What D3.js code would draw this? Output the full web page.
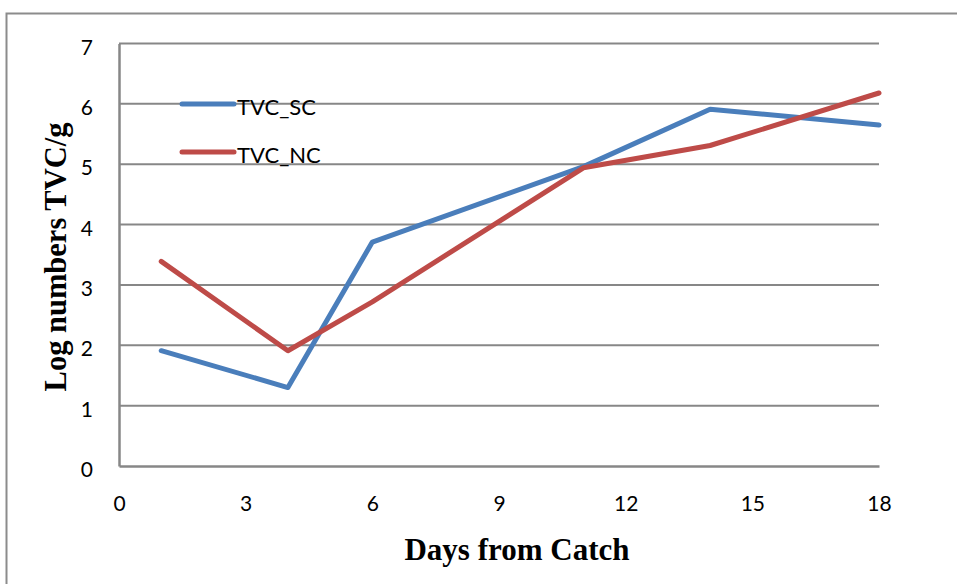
<!DOCTYPE html>
<html><head><meta charset="utf-8">
<script src="https://cdn.jsdelivr.net/npm/d3@7"></script>
<style>body{margin:0;background:#fff}</style>
</head><body>
<svg id="c" width="957" height="584"></svg>
<script>
const days = [1, 4, 6, 11, 14, 18];
const tvcSC = [1.91, 1.30, 3.71, 4.96, 5.91, 5.65];
const tvcNC = [3.39, 1.91, 2.72, 4.94, 5.31, 6.18];
const seriesNames = ["TVC_SC", "TVC_NC"];
const seriesColors = ["#4a7ebb", "#be4b48"];
const xTicks = [0, 3, 6, 9, 12, 15, 18];
const yTicks = [0, 1, 2, 3, 4, 5, 6, 7];

const svg = d3.select("#c");
const x = d3.scaleLinear().domain([0, 18]).range([119, 879]);
const y = d3.scaleLinear().domain([0, 7]).range([466, 43.5]);
const tickFont = "Lato, Open Sans, sans-serif";
const titleFont = "Liberation Serif, Times New Roman, serif";

// outer frame
svg.append("path").attr("d", "M6.5,584 V13.5 H957").attr("fill", "none")
  .attr("stroke", "#8c8c8c").attr("stroke-width", 2);

// gridlines
svg.append("g").selectAll("line").data(yTicks.filter(d => d > 0)).join("line")
  .attr("x1", x(0)).attr("x2", x(18)).attr("y1", d => y(d)).attr("y2", d => y(d))
  .attr("stroke", "#878787").attr("stroke-width", 2);

// axes
const yAxis = svg.append("g").attr("transform", `translate(${x(0)},0)`)
  .call(d3.axisLeft(y).tickValues(yTicks).tickSize(0).tickPadding(26).tickFormat(d3.format("d")));
const xAxis = svg.append("g").attr("transform", `translate(0,${y(0)})`)
  .call(d3.axisBottom(x).tickValues(xTicks).tickSize(0).tickPadding(30).tickFormat(d3.format("d")));
[yAxis, xAxis].forEach(a => {
  a.select(".domain").attr("stroke", "#878787").attr("stroke-width", 2.5);
  a.selectAll("text").attr("font-family", tickFont).attr("font-size", 21).attr("fill", "#000");
});
yAxis.selectAll("text").attr("dy", "0.5em");

// lines
const line = d3.line().x((d, i) => x(days[i])).y(d => y(d));
[tvcSC, tvcNC].forEach((s, k) => {
  svg.append("path").datum(s).attr("d", line).attr("fill", "none")
    .attr("stroke", seriesColors[k]).attr("stroke-width", 5)
    .attr("stroke-linejoin", "round").attr("stroke-linecap", "round");
});

// legend
const legY = [104, 152];
seriesNames.forEach((n, k) => {
  svg.append("line").attr("x1", 182).attr("x2", 234).attr("y1", legY[k]).attr("y2", legY[k])
    .attr("stroke", seriesColors[k]).attr("stroke-width", 5).attr("stroke-linecap", "round");
  svg.append("text").attr("x", 237).attr("y", legY[k] + 11).text(n)
    .attr("font-family", tickFont).attr("font-size", 22).attr("fill", "#000");
});

// titles
svg.append("text").attr("transform", "translate(66,257) rotate(-90)").attr("text-anchor", "middle")
  .attr("font-family", titleFont).attr("font-weight", "bold")
  .attr("font-size", 30.5).text("Log numbers TVC/g");
svg.append("text").attr("x", 517).attr("y", 560).attr("text-anchor", "middle")
  .attr("font-family", titleFont).attr("font-weight", "bold")
  .attr("font-size", 31).text("Days from Catch");
</script>
</body></html>
